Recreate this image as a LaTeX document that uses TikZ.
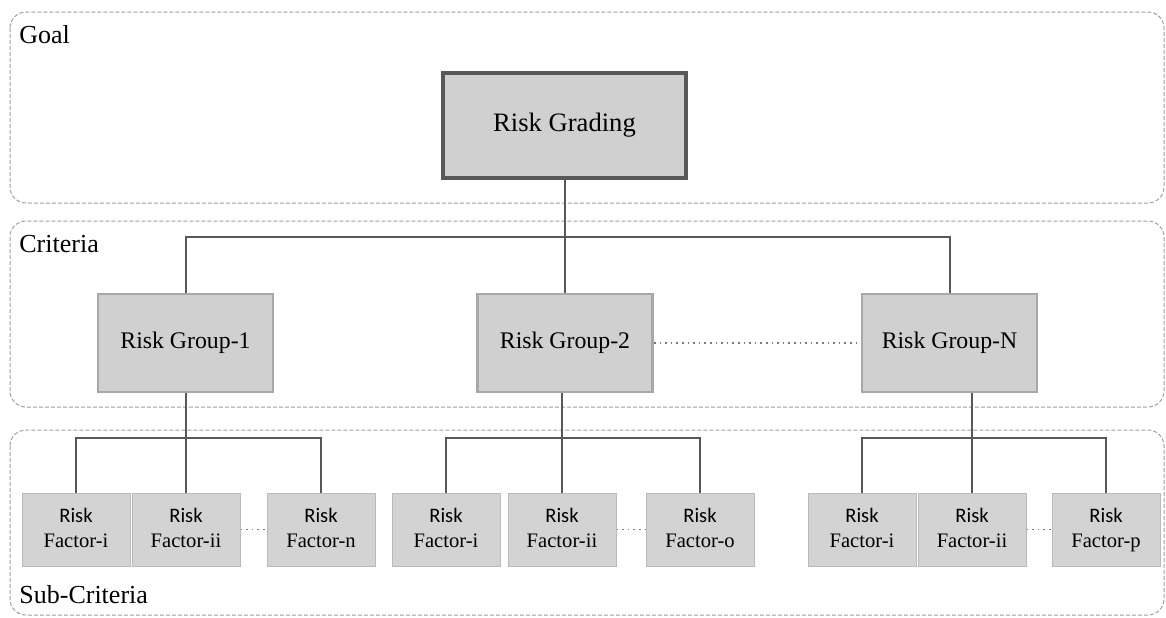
\documentclass[tikz,border=0pt]{standalone}
\usepackage{fontspec}
\setmainfont{Liberation Serif}
\newfontfamily\calfont{Carlito}

\definecolor{boxfill}{HTML}{D0D0D0}
\definecolor{facfill}{HTML}{D3D3D3}
\definecolor{linegray}{HTML}{585858}
\definecolor{rimgray}{HTML}{A8A8A8}
\definecolor{panelgray}{HTML}{A0A0A0}

\tikzset{
  panel/.style = {draw=panelgray, line width=0.5pt, dash pattern=on 2pt off 1pt, rounded corners=8pt},
  panellabel/.style = {anchor=base west, inner sep=0pt, font=\rmfamily\fontsize{13}{15}\selectfont},
  goalbox/.style = {draw=linegray, line width=1.8pt, fill=boxfill, minimum width=121.5pt, minimum height=52.5pt, font=\rmfamily\fontsize{13.3}{15}\selectfont},
  groupbox/.style = {draw=rimgray, line width=1.4pt, fill=boxfill, minimum width=87.5pt, minimum height=49pt, font=\rmfamily\fontsize{11.9}{14}\selectfont},
  factorbox/.style = {draw=rimgray!80, line width=0.5pt, fill=facfill, minimum width=54pt, minimum height=36.5pt, align=center, inner sep=1pt, font=\rmfamily\fontsize{10.3}{12.5}\selectfont},
  tree/.style = {draw=linegray, line width=1pt},
  gap/.style = {draw=linegray!80, line width=0.8pt, dotted}
}

\begin{document}
\begin{tikzpicture}[x=0.5pt, y=-0.5pt]
	\useasboundingbox (0,0) rectangle (1166,617);
	% layers
	\draw[panel] (10,12) rectangle (1164,203);
	\draw[panel] (10,221) rectangle (1164,407);
	\draw[panel] (10,430) rectangle (1164,615);
	\node[panellabel] (lgoal) at (19,43) {Goal};
	\node[panellabel] (lcrit) at (19,252) {Criteria};
	\node[panellabel] (lsub) at (19,603) {Sub-Criteria};
	% goal and criteria
	\node[goalbox] (grading) at (564.5,125.5) {Risk Grading};
	\node[groupbox] (grpA) at (185.5,343) {Risk Group-1};
	\node[groupbox] (grpB) at (565,343) {Risk Group-2};
	\node[groupbox] (grpN) at (949.5,343) {Risk Group-N};
	\coordinate (barA) at (0,237);
	\coordinate (barB) at (0,438);
	\foreach \g in {grpA,grpB,grpN}
		\draw[tree] (grading.south) -- (grading.south |- barA) -| (\g.north);
	\draw[gap] (grpB.east) -- (grpN.west);
	% sub-criteria
	\foreach \g/\xa/\xb/\xc/\fl in {A/76/186/321/n, B/446/562/700/o, N/862/972/1106/p} {
		\node[factorbox] (f\g1) at (\xa,529.5) {{\calfont Risk}\strut\\Factor-i\strut};
		\node[factorbox] (f\g2) at (\xb,529.5) {{\calfont Risk}\strut\\Factor-ii\strut};
		\node[factorbox] (f\g3) at (\xc,529.5) {{\calfont Risk}\strut\\Factor-\fl\strut};
		\draw[tree] (grp\g.south -| f\g2.north) -- (f\g2.north);
		\draw[tree] (f\g1.north) |- (f\g3.north |- barB) -- (f\g3.north);
		\draw[gap] (f\g2.east) -- (f\g3.west);
	}
\end{tikzpicture}
\end{document}
